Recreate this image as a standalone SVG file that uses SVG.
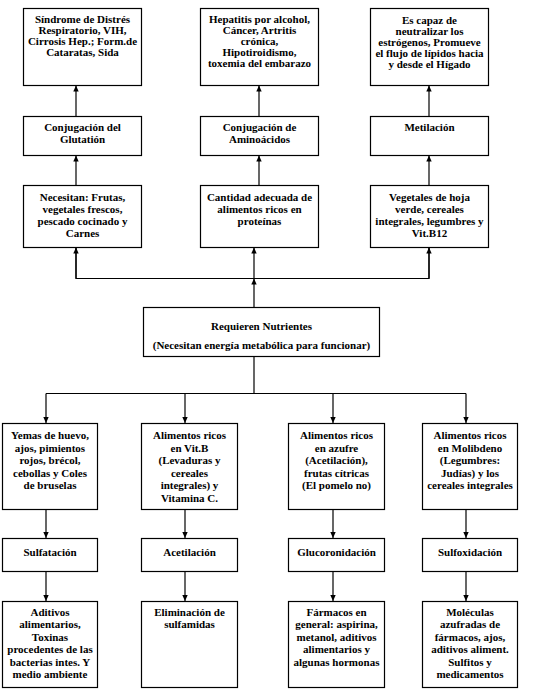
<svg xmlns="http://www.w3.org/2000/svg" width="546" height="700" viewBox="0 0 546 700">
<defs>
<marker id="ah" markerUnits="userSpaceOnUse" markerWidth="6" markerHeight="6" refX="6" refY="3" orient="auto">
<path d="M0,0.3 L6,3 L0,5.7 z" fill="#000"/>
</marker>
<style>
.box{fill:#fff;stroke:#000;stroke-width:1.2}
.t{font-family:"Liberation Serif","Times New Roman",serif;font-weight:bold;font-size:11px;fill:#000;text-anchor:middle}
.c{stroke:#000;stroke-width:1.2;fill:none}
.a{stroke:#000;stroke-width:1.2;fill:none;marker-end:url(#ah)}
</style>
</defs>
<rect width="546" height="700" fill="#fff"/>
<g id="connectors">
<line class="a" x1="76" y1="116" x2="76" y2="85.5"/>
<line class="a" x1="259" y1="116" x2="259" y2="85.5"/>
<line class="a" x1="429" y1="116" x2="429" y2="85.5"/>
<line class="a" x1="76" y1="185" x2="76" y2="155.5"/>
<line class="a" x1="259" y1="185" x2="259" y2="155.5"/>
<line class="a" x1="429" y1="185" x2="429" y2="155.5"/>
<line class="a" x1="254" y1="307" x2="254" y2="278.5"/>
<polyline class="c" points="76,247.5 76,278.5 429,278.5 429,247.5"/>
<line class="a" x1="76" y1="278.5" x2="76" y2="247.5"/>
<line class="a" x1="254" y1="278.5" x2="254" y2="247.5"/>
<line class="a" x1="429" y1="278.5" x2="429" y2="247.5"/>
<line class="c" x1="254" y1="356" x2="254" y2="393.5"/>
<line class="c" x1="46" y1="393.5" x2="466" y2="393.5"/>
<line class="a" x1="46" y1="393.5" x2="46" y2="423"/>
<line class="a" x1="185" y1="393.5" x2="185" y2="423"/>
<line class="a" x1="333" y1="393.5" x2="333" y2="423"/>
<line class="a" x1="466" y1="393.5" x2="466" y2="423"/>
<line class="a" x1="46" y1="509" x2="46" y2="538"/>
<line class="a" x1="185" y1="509" x2="185" y2="538"/>
<line class="a" x1="333" y1="509" x2="333" y2="538"/>
<line class="a" x1="466" y1="509" x2="466" y2="538"/>
<line class="a" x1="46" y1="571" x2="46" y2="601"/>
<line class="a" x1="185" y1="571" x2="185" y2="601"/>
<line class="a" x1="333" y1="571" x2="333" y2="601"/>
<line class="a" x1="466" y1="571" x2="466" y2="601"/>
</g>
<g id="n_sindrome">
<rect class="box" x="23.5" y="8.5" width="118" height="77"/>
<text class="t" x="82.5" y="22.5">Síndrome de Distrés</text>
<text class="t" x="82.5" y="33.7">Respiratorio, VIH,</text>
<text class="t" x="82.5" y="44.9">Cirrosis Hep.; Form.de</text>
<text class="t" x="82.5" y="56.1">Cataratas, Sida</text>
</g>
<g id="n_hepatitis">
<rect class="box" x="200.5" y="8.5" width="118" height="77"/>
<text class="t" x="259.5" y="22.5">Hepatitis por alcohol,</text>
<text class="t" x="259.5" y="33.7">Cáncer, Artritis</text>
<text class="t" x="259.5" y="44.9">crónica,</text>
<text class="t" x="259.5" y="56.1">Hipotiroidismo,</text>
<text class="t" x="259.5" y="67.3">toxemia del embarazo</text>
</g>
<g id="n_estrogenos">
<rect class="box" x="370.5" y="8.5" width="118" height="77"/>
<text class="t" x="429.5" y="23.5">Es capaz de</text>
<text class="t" x="429.5" y="34.7">neutralizar los</text>
<text class="t" x="429.5" y="45.9">estrógenos, Promueve</text>
<text class="t" x="429.5" y="57.1">el flujo de lípidos hacia</text>
<text class="t" x="429.5" y="68.3">y desde el Hígado</text>
</g>
<g id="n_glutation">
<rect class="box" x="23.5" y="116.5" width="118" height="39"/>
<text class="t" x="82.5" y="130.5">Conjugación del</text>
<text class="t" x="82.5" y="142.5">Glutatión</text>
</g>
<g id="n_aminoacidos">
<rect class="box" x="200.5" y="116.5" width="118" height="39"/>
<text class="t" x="259.5" y="130.5">Conjugación de</text>
<text class="t" x="259.5" y="142.5">Aminoácidos</text>
</g>
<g id="n_metilacion">
<rect class="box" x="370.5" y="116.5" width="118" height="39"/>
<text class="t" x="429.5" y="130.5">Metilación</text>
</g>
<g id="n_frutas">
<rect class="box" x="23.5" y="185.5" width="118" height="62"/>
<text class="t" x="82.5" y="200.5">Necesitan: Frutas,</text>
<text class="t" x="82.5" y="212.8">vegetales frescos,</text>
<text class="t" x="82.5" y="225.1">pescado cocinado y</text>
<text class="t" x="82.5" y="237.4">Carnes</text>
</g>
<g id="n_proteinas">
<rect class="box" x="200.5" y="185.5" width="118" height="62"/>
<text class="t" x="259.5" y="200.5">Cantidad adecuada de</text>
<text class="t" x="259.5" y="212.8">alimentos ricos en</text>
<text class="t" x="259.5" y="225.1">proteínas</text>
</g>
<g id="n_vegetales">
<rect class="box" x="370.5" y="185.5" width="118" height="62"/>
<text class="t" x="429.5" y="200.5">Vegetales de hoja</text>
<text class="t" x="429.5" y="212.8">verde, cereales</text>
<text class="t" x="429.5" y="225.1">integrales, legumbres y</text>
<text class="t" x="429.5" y="237.4">Vit.B12</text>
</g>
<g id="n_requieren">
<rect class="box" x="143.5" y="307.5" width="236" height="49"/>
<text class="t" x="261.5" y="330">Requieren Nutrientes</text>
<text class="t" x="261.5" y="349">(Necesitan energía metabólica para funcionar)</text>
</g>
<g id="n_yemas">
<rect class="box" x="2.5" y="423.5" width="95" height="86"/>
<text class="t" x="50" y="439">Yemas de huevo,</text>
<text class="t" x="50" y="451.5">ajos, pimientos</text>
<text class="t" x="50" y="464">rojos, brécol,</text>
<text class="t" x="50" y="476.5">cebollas y Coles</text>
<text class="t" x="50" y="489">de bruselas</text>
</g>
<g id="n_vitb">
<rect class="box" x="141.5" y="423.5" width="96" height="86"/>
<text class="t" x="189.5" y="439">Alimentos ricos</text>
<text class="t" x="189.5" y="451.5">en Vit.B</text>
<text class="t" x="189.5" y="464">(Levaduras y</text>
<text class="t" x="189.5" y="476.5">cereales</text>
<text class="t" x="189.5" y="489">integrales) y</text>
<text class="t" x="189.5" y="501.5">Vitamina C.</text>
</g>
<g id="n_azufre">
<rect class="box" x="288.5" y="423.5" width="96" height="86"/>
<text class="t" x="336.5" y="439">Alimentos ricos</text>
<text class="t" x="336.5" y="451.5">en azufre</text>
<text class="t" x="336.5" y="464">(Acetilación),</text>
<text class="t" x="336.5" y="476.5">frutas cítricas</text>
<text class="t" x="336.5" y="489">(El pomelo no)</text>
</g>
<g id="n_molibdeno">
<rect class="box" x="422.5" y="423.5" width="95" height="86"/>
<text class="t" x="470" y="439">Alimentos ricos</text>
<text class="t" x="470" y="451.5">en Molibdeno</text>
<text class="t" x="470" y="464">(Legumbres:</text>
<text class="t" x="470" y="476.5">Judías) y los</text>
<text class="t" x="470" y="489">cereales integrales</text>
</g>
<g id="n_sulfatacion">
<rect class="box" x="2.5" y="538.5" width="95" height="33"/>
<text class="t" x="50" y="555.5">Sulfatación</text>
</g>
<g id="n_acetilacion">
<rect class="box" x="141.5" y="538.5" width="96" height="33"/>
<text class="t" x="189.5" y="555.5">Acetilación</text>
</g>
<g id="n_glucoronidacion">
<rect class="box" x="288.5" y="538.5" width="96" height="33"/>
<text class="t" x="336.5" y="555.5">Glucoronidación</text>
</g>
<g id="n_sulfoxidacion">
<rect class="box" x="422.5" y="538.5" width="95" height="33"/>
<text class="t" x="470" y="555.5">Sulfoxidación</text>
</g>
<g id="n_aditivos">
<rect class="box" x="2.5" y="601.5" width="95" height="86"/>
<text class="t" x="50" y="615.5">Aditivos</text>
<text class="t" x="50" y="628">alimentarios,</text>
<text class="t" x="50" y="640.5">Toxinas</text>
<text class="t" x="50" y="653">procedentes de las</text>
<text class="t" x="50" y="665.5">bacterias intes. Y</text>
<text class="t" x="50" y="678">medio ambiente</text>
</g>
<g id="n_sulfamidas">
<rect class="box" x="141.5" y="601.5" width="96" height="86"/>
<text class="t" x="189.5" y="615.5">Eliminación de</text>
<text class="t" x="189.5" y="628">sulfamidas</text>
</g>
<g id="n_farmacos">
<rect class="box" x="288.5" y="601.5" width="96" height="86"/>
<text class="t" x="336.5" y="615.5">Fármacos en</text>
<text class="t" x="336.5" y="628">general: aspirina,</text>
<text class="t" x="336.5" y="640.5">metanol, aditivos</text>
<text class="t" x="336.5" y="653">alimentarios y</text>
<text class="t" x="336.5" y="665.5">algunas hormonas</text>
</g>
<g id="n_moleculas">
<rect class="box" x="422.5" y="601.5" width="95" height="86"/>
<text class="t" x="470" y="615.5">Moléculas</text>
<text class="t" x="470" y="628">azufradas de</text>
<text class="t" x="470" y="640.5">fármacos, ajos,</text>
<text class="t" x="470" y="653">aditivos aliment.</text>
<text class="t" x="470" y="665.5">Sulfitos y</text>
<text class="t" x="470" y="678">medicamentos</text>
</g>
</svg>
